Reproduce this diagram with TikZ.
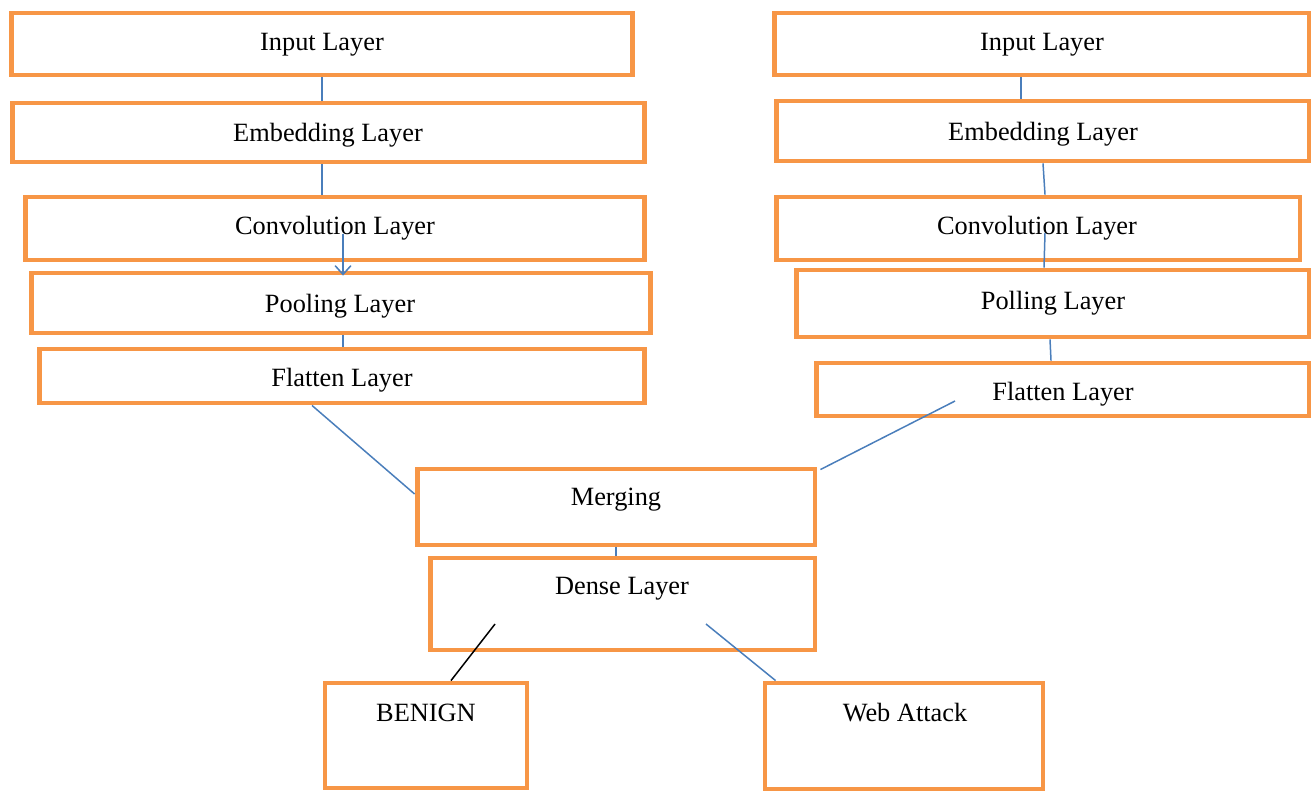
\documentclass[tikz,border=0pt]{standalone}
\usepackage{fontspec}
\setmainfont{Liberation Serif}
\usetikzlibrary{arrows.meta}
\definecolor{boxorange}{HTML}{F79646}
\definecolor{wireblue}{HTML}{4A7EBB}
\begin{document}
\begin{tikzpicture}[x=0.02cm,y=-0.02cm,
    box/.style={draw=boxorange,line width=2.8pt,inner sep=0pt},
    lbl/.style={font=\fontsize{15}{18}\selectfont,inner sep=0pt,yshift=-0.06cm},
    wire/.style={draw=wireblue,line width=0.85pt}]
  \useasboundingbox (0,0) rectangle (1311,792);
  % left branch
  \node[box,minimum width=12.44cm,minimum height=1.24cm] (inL) at (322,44) {};
  \node[box,minimum width=12.66cm,minimum height=1.18cm] (embL) at (328.5,132.5) {};
  \node[box,minimum width=12.40cm,minimum height=1.26cm] (convL) at (335,228.5) {};
  \node[box,minimum width=12.40cm,minimum height=1.20cm] (poolL) at (341,303) {};
  \node[box,minimum width=12.12cm,minimum height=1.08cm] (flatL) at (342,376) {};
  \node[lbl] (inLt) at (322,42) {Input Layer};
  \node[lbl] (embLt) at (328,132) {Embedding Layer};
  \node[lbl] (convLt) at (335,225) {Convolution Layer};
  \node[lbl] (poolLt) at (340,303) {Pooling Layer};
  \node[lbl] (flatLt) at (342,377) {Flatten Layer};
  % right branch
  \node[box,minimum width=10.70cm,minimum height=1.24cm] (inR) at (1041.5,44) {};
  \node[box,minimum width=10.66cm,minimum height=1.20cm] (embR) at (1042.5,131) {};
  \node[box,minimum width=10.48cm,minimum height=1.26cm] (convR) at (1038,228.5) {};
  \node[box,minimum width=10.26cm,minimum height=1.34cm] (poolR) at (1052.5,303.5) {};
  \node[box,minimum width=9.86cm,minimum height=1.06cm] (flatR) at (1062.5,389.5) {};
  \node[lbl] (inRt) at (1042,42) {Input Layer};
  \node[lbl] (embRt) at (1043,131) {Embedding Layer};
  \node[lbl] (convRt) at (1037,225) {Convolution Layer};
  \node[lbl] (poolRt) at (1053,300) {Polling Layer};
  \node[lbl] (flatRt) at (1063,391) {Flatten Layer};
  % merge and output
  \node[box,minimum width=7.96cm,minimum height=1.52cm] (merge) at (616,507) {};
  \node[box,minimum width=7.70cm,minimum height=1.84cm] (dense) at (622.5,604) {};
  \node[box,minimum width=4.04cm,minimum height=2.10cm] (benign) at (426,735.5) {};
  \node[box,minimum width=5.56cm,minimum height=2.12cm] (web) at (904,736) {};
  \node[lbl] (merget) at (616,497) {Merging};
  \node[lbl] (denset) at (622,586) {Dense Layer};
  \node[lbl] (benignt) at (426,710) {BENIGN};
  \node[lbl] (webt) at (905,710) {Web Attack};
  % connectors
  \coordinate (cLa) at (343,234);
  \draw[wire] (inL.south) -- (inL.south |- embL.north);
  \draw[wire] (inL.south |- embL.south) -- (inL.south |- convL.north);
  \draw[wire,-{Straight Barb[length=5pt,width=9pt]}] (cLa) -- ([yshift=-0.1cm]cLa |- poolL.north);
  \draw[wire] (cLa |- poolL.south) -- (cLa |- flatL.north);
  \draw[wire] ([xshift=-0.6cm]flatL.south) -- ([yshift=0.26cm]merge.west);
  \draw[wire] ([xshift=-0.41cm]inR.south) -- ([xshift=-0.41cm]inR.south |- embR.north);
  \draw[wire] ([xshift=0.01cm]embR.south) -- ([xshift=0.05cm]embR.south |- convR.north);
  \draw[wire] ([xshift=0.14cm,yshift=-0.09cm]convR.center) -- ([xshift=-0.17cm]poolR.north);
  \draw[wire] ([xshift=-0.05cm]poolR.south) -- ([xshift=-0.23cm]flatR.north);
  \draw[wire] ([xshift=-2.15cm,yshift=-0.23cm]flatR.center) -- ([xshift=0.06cm,yshift=-0.06cm]merge.north east);
  \draw[wire] (merge.south) -- (merge.south |- dense.north);
  \draw[line width=0.85pt] ([xshift=-2.55cm,yshift=-0.4cm]dense.center) -- ([xshift=0.5cm]benign.north);
  \draw[wire] ([xshift=1.67cm,yshift=-0.4cm]dense.center) -- ([xshift=0.26cm]web.north west);
\end{tikzpicture}
\end{document}
